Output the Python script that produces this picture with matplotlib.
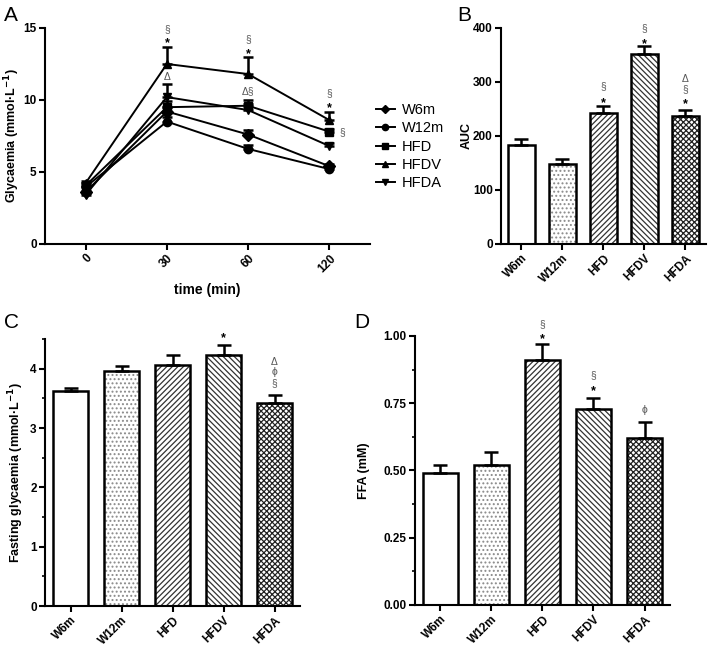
import numpy as np
import matplotlib
matplotlib.use("Agg")
import matplotlib.pyplot as plt
from matplotlib.ticker import MultipleLocator
from matplotlib.lines import Line2D

plt.rcParams['font.family'] = ['Liberation Sans', 'DejaVu Sans']
plt.rcParams['hatch.linewidth'] = 0.9

# ---------------- data ----------------
groups = ["W6m", "W12m", "HFD", "HFDV", "HFDA"]
times = ["0", "30", "60", "120"]

# A: glycaemia during the test (mmol/L), mean and upper SEM
w6m_mean = [3.62, 9.2, 7.6, 5.4]
w6m_err = [0.06, 0.3, 0.3, 0.15]
w12m_mean = [3.96, 8.5, 6.6, 5.2]
w12m_err = [0.08, 0.3, 0.3, 0.15]
hfd_mean = [4.06, 9.5, 9.6, 7.8]
hfd_err = [0.17, 0.4, 0.4, 0.2]
hfdv_mean = [4.23, 12.5, 11.8, 8.6]
hfdv_err = [0.17, 1.2, 1.2, 0.6]
hfda_mean = [3.42, 10.2, 9.3, 6.8]
hfda_err = [0.14, 0.9, 0.4, 0.2]

# B: AUC
auc_mean = [183, 148, 243, 351, 237]
auc_err = [11, 10, 12, 15, 12]

# C: fasting glycaemia
fast_mean = [3.62, 3.96, 4.06, 4.23, 3.42]
fast_err = [0.06, 0.08, 0.17, 0.17, 0.14]

# D: FFA
ffa_mean = [0.49, 0.52, 0.91, 0.73, 0.62]
ffa_err = [0.03, 0.05, 0.06, 0.04, 0.06]

# significance marks (x index, y value, text)
marks_a = [(1, 14.95, "§"), (1, 14.2, "*"), (1, 11.6, "Δ"),
           (2, 14.2, "§"), (2, 13.45, "*"), (2, 10.6, "Δ§"),
           (3, 10.5, "§"), (3, 9.75, "*")]
marks_b = [(2, 292, "§"), (2, 268, "*"), (3, 400, "§"), (3, 378, "*"),
           (4, 305, "Δ"), (4, 286, "§"), (4, 266, "*")]
marks_c = [(3, 4.58, "*"), (4, 4.11, "Δ"), (4, 3.94, "ϕ"), (4, 3.76, "§")]
marks_d = [(2, 1.045, "§"), (2, 1.005, "*"), (3, 0.855, "§"), (3, 0.81, "*"),
           (4, 0.725, "ϕ")]

hatches = ["", "....", "//////", "\\\\\\\\\\\\", "xxxxxx"]
hatch_cols = ["black", "#8a8a8a", "#333333", "#333333", "#222222"]

fig = plt.figure(figsize=(7.09, 6.46), dpi=100)
axA = fig.add_axes([0.0635, 0.6223, 0.4584, 0.3344])
axB = fig.add_axes([0.7066, 0.6223, 0.2891, 0.3344])
axC = fig.add_axes([0.0635, 0.0619, 0.3597, 0.4133])
axD = fig.add_axes([0.5853, 0.0635, 0.3597, 0.4164])


def style(ax):
    for s in ["top", "right"]:
        ax.spines[s].set_visible(False)
    for s in ["left", "bottom"]:
        ax.spines[s].set_linewidth(1.5)
    ax.tick_params(width=1.5, length=4, labelsize=8.5, pad=2)
    ax.tick_params(which="minor", width=1.2, length=2.5)
    for lab in ax.get_yticklabels():
        lab.set_fontweight("bold")


def put_marks(ax, marks):
    for xi, yv, t in marks:
        if t == "*":
            # asterisk glyph sits high, nudge it down
            ax.annotate(t, (xi, yv), xytext=(0, -3), textcoords="offset points",
                        ha="center", va="center", fontsize=9, fontweight="bold",
                        color="black", annotation_clip=False)
        else:
            ax.annotate(t, (xi, yv), ha="center", va="center", fontsize=7.5,
                        color="#555555", annotation_clip=False)


# ---------------- A ----------------
x = np.arange(len(times))
series = [("W6m", "D", w6m_mean, w6m_err), ("W12m", "o", w12m_mean, w12m_err),
          ("HFD", "s", hfd_mean, hfd_err), ("HFDV", "^", hfdv_mean, hfdv_err),
          ("HFDA", "v", hfda_mean, hfda_err)]
handles = []
for name, mk, m, e in series:
    axA.errorbar(x, m, yerr=[np.zeros(len(e)), e], color="black", marker=mk,
                 markersize=6, linewidth=1.4, elinewidth=1.8, capsize=3.5,
                 capthick=1.8, clip_on=False)
    handles.append(Line2D([], [], color="black", marker=mk, markersize=4.5,
                          linewidth=1.4, label=name))
axA.set_xlim(-0.5, 3.5)
axA.set_ylim(0, 15)
axA.set_yticks([0, 5, 10, 15])
axA.set_xticks(x)
axA.set_xticklabels(times, rotation=45, ha="right", rotation_mode="anchor",
                    fontweight="bold")
axA.set_xlabel("time (min)", fontweight="bold", fontsize=10, labelpad=6)
axA.set_ylabel("Glycaemia (mmol·L$^{\\mathbf{-1}}$)", fontweight="bold", fontsize=9,
               labelpad=1)
style(axA)
put_marks(axA, marks_a)
axA.annotate("§", (3.12, 7.8), va="center", fontsize=7.5, color="#555555",
             annotation_clip=False)
axA.legend(handles=handles, loc="upper left", bbox_to_anchor=(1.0, 0.68),
           frameon=False, fontsize=10.5, handlelength=1.3, handletextpad=0.5,
           labelspacing=0.3, numpoints=1, borderaxespad=0)


# ---------------- bar panels ----------------
def bar_panel(ax, means, errs, ylim, major, minor, ylabel, fmt=None, pad=3):
    xb = np.arange(len(groups))
    for i in range(len(groups)):
        ax.bar(xb[i], means[i], width=0.67, color="white", edgecolor=hatch_cols[i],
               hatch=hatches[i], linewidth=0, zorder=2)
        ax.bar(xb[i], means[i], width=0.67, fill=False, edgecolor="black",
               linewidth=1.8, zorder=3)
    ax.errorbar(xb, means, yerr=[np.zeros(len(errs)), errs], fmt="none",
                ecolor="black", elinewidth=1.8, capsize=5, capthick=1.8, zorder=4)
    ax.set_xlim(-0.5, 4.5)
    ax.set_ylim(*ylim)
    ax.yaxis.set_major_locator(MultipleLocator(major))
    if minor:
        ax.yaxis.set_minor_locator(MultipleLocator(minor))
    if fmt:
        ax.yaxis.set_major_formatter(fmt)
    ax.set_xticks(xb)
    ax.set_xticklabels(groups, rotation=45, ha="right", rotation_mode="anchor",
                       fontweight="bold")
    ax.set_ylabel(ylabel, fontweight="bold", fontsize=9, labelpad=pad)
    style(ax)


bar_panel(axB, auc_mean, auc_err, (0, 400), 100, None, "AUC", pad=0)
put_marks(axB, marks_b)
bar_panel(axC, fast_mean, fast_err, (0, 4.5), 1, 0.5,
          "Fasting glycaemia (mmol·L$^{\\mathbf{-1}}$)")
put_marks(axC, marks_c)
bar_panel(axD, ffa_mean, ffa_err, (0, 1.0), 0.25, 0.125, "FFA (mM)", "{x:.2f}",
          pad=10)
put_marks(axD, marks_d)

for t, (px, py) in zip("ABCD", [(0.005, 0.99), (0.645, 0.99), (0.005, 0.515), (0.5, 0.515)]):
    fig.text(px, py, t, fontsize=15, va="top", ha="left")

fig.savefig("out.png", dpi=100)
